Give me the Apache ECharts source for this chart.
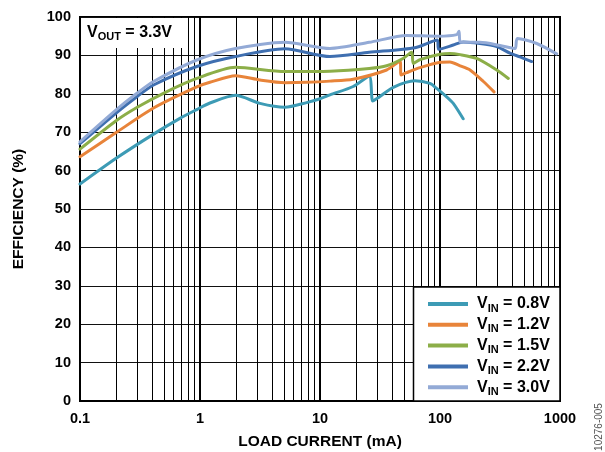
<!DOCTYPE html>
<html>
<head>
<meta charset="utf-8">
<script src="https://cdn.jsdelivr.net/npm/echarts@6/dist/echarts.min.js"></script>
<style>
html,body{margin:0;padding:0;background:#fff;}
#chart{width:605px;height:452px;}
</style>
</head>
<body>
<div id="chart"></div>
<script>
// ---- data ----
const seriesNames = ['0.8V', '1.2V', '1.5V', '2.2V', '3.0V'];
const seriesColors = ['#3d9bb5', '#e8843a', '#8cae48', '#3f6fb0', '#93aad6'];

const vin08X = [0.1, 0.2, 0.41, 0.68, 0.94, 1.21, 1.98, 3.16, 5.1, 7.74, 10, 12.1, 18.9, 25.7, 27.5, 30.6, 40.8, 61.9, 82.5, 93.8, 113.6, 129, 156];
const vin08Y = [56.5, 63.2, 69.5, 73.6, 75.9, 77.6, 79.6, 77.5, 76.5, 77.7, 78.7, 79.7, 81.9, 84.6, 78.1, 79.0, 81.7, 83.4, 82.7, 81.4, 79.2, 77.5, 73.5];

const vin12X = [0.1, 0.2, 0.41, 0.94, 1.21, 1.98, 3.16, 5.1, 7.74, 12.1, 18.9, 35.9, 46.4, 47.5, 52.7, 68.1, 100, 121, 147, 178, 230, 282];
const vin12Y = [63.6, 69.9, 76.3, 81.8, 83.0, 84.7, 83.6, 82.9, 83.0, 83.3, 83.8, 86.2, 88.5, 84.9, 85.5, 86.8, 88.2, 88.3, 87.3, 86.2, 83.2, 80.5];

const vin15X = [0.1, 0.2, 0.3, 0.5, 0.94, 1.98, 5.1, 12.1, 25.7, 35.9, 49.2, 58.1, 59.9, 68.1, 100, 121, 147, 202, 297, 371];
const vin15Y = [65.6, 73.0, 76.5, 80.2, 84.0, 86.9, 85.8, 85.9, 86.6, 87.3, 89.2, 90.8, 87.9, 88.9, 90.3, 90.5, 90.2, 89.2, 86.2, 84.0];

const vin22X = [0.1, 0.2, 0.3, 0.41, 0.94, 1.98, 5.1, 12.1, 25.7, 61.9, 95, 97.5, 129, 156, 215, 297, 383, 464, 581];
const vin22Y = [67.0, 75.0, 79.3, 82.3, 87.1, 89.7, 91.7, 89.7, 90.8, 92.0, 94.0, 91.6, 92.7, 93.5, 93.1, 92.3, 90.6, 89.6, 88.4];

const vin30X = [0.1, 0.2, 0.3, 0.41, 0.94, 1.98, 5.1, 12.1, 25.7, 52.7, 96.8, 138, 144, 148, 215, 316, 422, 441, 640, 938];
const vin30Y = [67.5, 75.8, 80.2, 83.2, 88.8, 91.8, 93.4, 91.8, 93.4, 95.2, 95.0, 95.4, 96.3, 93.4, 93.4, 92.6, 91.8, 94.4, 93.1, 90.4];

const xTickLabels = ['0.1', '1', '10', '100', '1000'];
const yTickLabels = ['0', '10', '20', '30', '40', '50', '60', '70', '80', '90', '100'];
const minorGridX = [0.2,0.3,0.4,0.5,0.6,0.7,0.8,0.9, 2,3,4,5,6,7,8,9, 20,30,40,50,60,70,80,90, 200,300,400,500,600,700,800,900];

// ---- chart ----
const FONT = "'Liberation Sans', Arial, sans-serif";
const xs = [vin08X, vin12X, vin15X, vin22X, vin30X];
const ys = [vin08Y, vin12Y, vin15Y, vin22Y, vin30Y];

const lineSeries = seriesNames.map((n, i) => ({
  name: n,
  type: 'line',
  data: xs[i].map((x, k) => [x, ys[i][k]]),
  showSymbol: false,
  symbol: 'none',
  smooth: 0.25,
  lineStyle: { color: seriesColors[i], width: 3, cap: 'round', join: 'round' },
  itemStyle: { color: seriesColors[i] },
  z: 2 + i * 0.1,
  emphasis: { disabled: true },
  silent: true
}));

const gridSeries = {
  name: 'minorGrid',
  type: 'line',
  data: [],
  silent: true,
  z: 1,
  markLine: {
    silent: true,
    symbol: 'none',
    z: 1,
    animation: false,
    label: { show: false },
    emphasis: { disabled: true },
    lineStyle: { color: '#000', width: 1, type: 'solid' },
    data: minorGridX.map(v => ({ xAxis: v }))
  }
};

const richLegend = {
  v: { fontSize: 16, fontWeight: 'bold', fontFamily: FONT, color: '#000', lineHeight: 17 },
  s: { fontSize: 11, fontWeight: 'bold', fontFamily: FONT, color: '#000', lineHeight: 17, padding: [9, 0, 0, 0] }
};

const option = {
  animation: false,
  backgroundColor: '#fff',
  grid: { left: 80, right: 45, top: 17, bottom: 51, containLabel: false, outerBoundsMode: 'none',
          show: true, borderColor: '#000', borderWidth: 2, backgroundColor: 'transparent' },
  xAxis: {
    type: 'log', logBase: 10, min: 0.1, max: 1000,
    axisLine: { show: true, lineStyle: { color: '#000', width: 2 } },
    axisTick: { show: false },
    splitLine: { show: true, lineStyle: { color: '#000', width: 2 } },
    axisLabel: {
      color: '#000', fontWeight: 'bold', fontSize: 14.5, fontFamily: FONT, margin: 10,
      formatter: v => {
        const e = Math.round(Math.log10(v));
        return xTickLabels[e + 1] !== undefined ? xTickLabels[e + 1] : '';
      }
    },
    name: 'LOAD CURRENT (mA)', nameLocation: 'middle', nameGap: 33,
    nameTextStyle: { color: '#000', fontWeight: 'bold', fontSize: 15.5, fontFamily: FONT }
  },
  yAxis: {
    type: 'value', min: 0, max: 100, interval: 10,
    axisLine: { show: true, lineStyle: { color: '#000', width: 2 } },
    axisTick: { show: false },
    splitLine: { show: true, lineStyle: { color: '#111', width: 1 } },
    axisLabel: {
      color: '#000', fontWeight: 'bold', fontSize: 14.5, fontFamily: FONT, margin: 9,
      formatter: v => yTickLabels[Math.round(v / 10)]
    },
    name: 'EFFICIENCY (%)', nameLocation: 'middle', nameRotate: 90, nameGap: 53,
    nameTextStyle: { color: '#000', fontWeight: 'bold', fontSize: 15.5, fontFamily: FONT }
  },
  legend: {
    data: seriesNames,
    orient: 'vertical',
    left: 428, top: 294,
    padding: 0,
    itemWidth: 40, itemHeight: 4, itemGap: 0.8,
    icon: 'rect',
    selectedMode: false,
    z: 60,
    formatter: n => '{v|V}{s|IN}{v| = ' + n + '}',
    textStyle: { padding: [0, 0, 0, 4], rich: richLegend }
  },
  graphic: [
    { type: 'rect', z: 100, silent: true, shape: { x: 81, y: 18, width: 104, height: 30 }, style: { fill: '#fff' } },
    { type: 'text', z: 101, silent: true, x: 87, y: 33,
      style: { text: '{v|V}{s|OUT}{v| = 3.3V}', verticalAlign: 'middle', align: 'left',
               rich: {
                 v: { fontSize: 16, fontWeight: 'bold', fontFamily: FONT, fill: '#000', lineHeight: 17 },
                 s: { fontSize: 11, fontWeight: 'bold', fontFamily: FONT, fill: '#000', lineHeight: 17, padding: [8, 0, 0, 0] }
               } } },
    { type: 'rect', z: 50, silent: true, shape: { x: 413.5, y: 287, width: 146.5, height: 114 },
      style: { fill: '#fff', stroke: '#000', lineWidth: 1.5 } },
    { type: 'text', z: 50, silent: true, x: 599, y: 427, rotation: Math.PI / 2,
      style: { text: '10276-005', font: '10px ' + FONT, fill: '#555', align: 'center', verticalAlign: 'middle' } }
  ],
  series: [gridSeries].concat(lineSeries)
};

const chart = echarts.init(document.getElementById('chart'), null, { renderer: 'canvas' });
chart.setOption(option);
</script>
</body>
</html>
